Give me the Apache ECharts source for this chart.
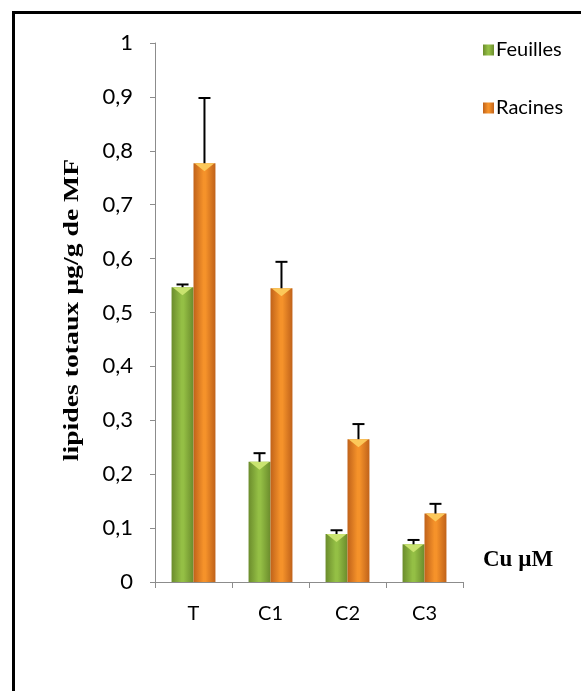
<!DOCTYPE html>
<html>
<head>
<meta charset="utf-8">
<script src="https://cdn.jsdelivr.net/npm/echarts@6/dist/echarts.min.js"></script>
<style>
  html, body { margin: 0; padding: 0; background: #fff; }
  #chart { width: 581px; height: 691px; }
</style>
</head>
<body>
<div id="chart"></div>
<script>
// valeurs
var categories = ['T', 'C1', 'C2', 'C3'];
var feuilles = [0.547, 0.223, 0.089, 0.070];
var feuillesErr = [0.005, 0.016, 0.007, 0.008];
var racines = [0.777, 0.545, 0.265, 0.127];
var racinesErr = [0.121, 0.049, 0.028, 0.018];

var gap = 0.43; // barCategoryGap

function vGrad(edge, mid) {
    return new echarts.graphic.LinearGradient(0, 0, 1, 0, [
        {offset: 0, color: edge},
        {offset: 0.45, color: mid},
        {offset: 0.55, color: mid},
        {offset: 1, color: edge}
    ]);
}

// triangle clair en haut de barre + barre d'erreur
function makeDecor(vals, errs, side, light) {
    return {
        type: 'custom',
        z: 5,
        silent: true,
        data: vals.map(function (v, i) { return [i, v, errs[i]]; }),
        renderItem: function (params, api) {
            var i = api.value(0), v = api.value(1), e = api.value(2);
            var band = api.size([1, 0])[0];
            var bw = band * (1 - gap) / 2;
            var base = api.coord([i, v]);
            var cx = base[0] + side * bw / 2;
            var top = base[1];
            var hi = api.coord([i, v + e])[1];
            var left = cx - bw / 2, right = cx + bw / 2;
            return {
                type: 'group',
                children: [
                    {type: 'polygon', shape: {points: [[left + 1, top], [right - 1, top], [cx, top + 8]]},
                        style: {fill: light}},
                    {type: 'line', shape: {x1: cx, y1: top, x2: cx, y2: hi},
                        style: {stroke: '#000', lineWidth: 2}},
                    {type: 'line', shape: {x1: cx - 6, y1: hi, x2: cx + 6, y2: hi},
                        style: {stroke: '#000', lineWidth: 2}}
                ]
            };
        }
    };
}

var chart = echarts.init(document.getElementById('chart'));
chart.setOption({
    animation: false,
    backgroundColor: '#fff',
    graphic: [
        {type: 'rect', shape: {x: 13.5, y: 12.5, width: 700, height: 800},
            style: {fill: 'none', stroke: '#000', lineWidth: 3}},
        // titre de l'axe Y, étiré comme dans l'original
        {type: 'text', x: 73, y: 310, rotation: Math.PI / 2, scaleX: 1.32,
            style: {text: 'lipides totaux µg/g de MF', fontFamily: 'Liberation Serif', fontWeight: 'bold',
                fontSize: 21, fill: '#000', align: 'center', verticalAlign: 'middle'}}
    ],
    grid: {left: 155, top: 43, right: 118, bottom: 109},
    legend: {
        orient: 'vertical',
        left: 478, top: 34,
        itemWidth: 11, itemHeight: 11,
        itemGap: 36,
        icon: 'rect',
        textStyle: {fontFamily: 'Lato', fontSize: 20, lineHeight: 22, color: '#000', padding: [0, 0, 0, -3]},
        data: ['Feuilles', 'Racines']
    },
    xAxis: {
        type: 'category',
        data: categories,
        name: 'Cu µM',
        nameLocation: 'end',
        nameGap: 20,
        nameTextStyle: {fontFamily: 'Liberation Serif', fontWeight: 'bold', fontSize: 23, color: '#000',
            align: 'left', verticalAlign: 'bottom', padding: [0, 0, 10, 0]},
        axisLine: {lineStyle: {color: '#8c8c8c', width: 1}},
        axisTick: {show: true, length: 6, lineStyle: {color: '#8c8c8c'}},
        axisLabel: {fontFamily: 'Lato', fontSize: 20, color: '#000', margin: 22}
    },
    yAxis: {
        type: 'value',
        min: 0, max: 1, interval: 0.1,
        axisLine: {show: true, lineStyle: {color: '#8c8c8c', width: 1}},
        axisTick: {show: true, length: 5, lineStyle: {color: '#8c8c8c'}},
        splitLine: {show: false},
        axisLabel: {fontFamily: 'Lato', fontSize: 22, color: '#000', margin: 22,
            formatter: function (v) { return String(Math.round(v * 10) / 10).replace('.', ','); }}
    },
    series: [
        {name: 'Feuilles', type: 'bar', data: feuilles, barGap: '0%', barCategoryGap: '43%',
            itemStyle: {color: vGrad('#6b8c2c', '#94bf45')}},
        {name: 'Racines', type: 'bar', data: racines, barGap: '0%', barCategoryGap: '43%',
            itemStyle: {color: vGrad('#c0621a', '#f5922a')}},
        makeDecor(feuilles, feuillesErr, -1, '#c9e36f'),
        makeDecor(racines, racinesErr, 1, '#fcc85a')
    ]
});
</script>
</body>
</html>
